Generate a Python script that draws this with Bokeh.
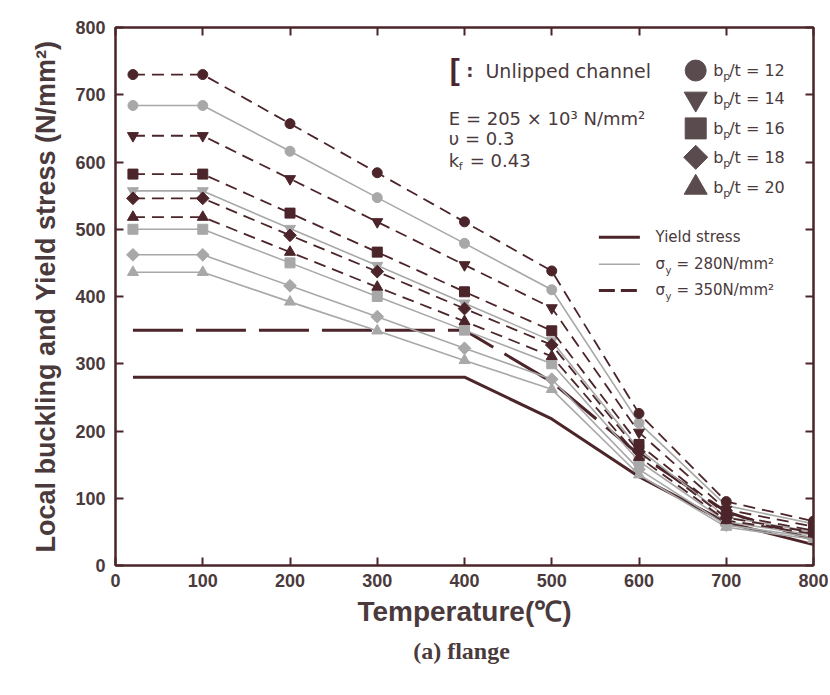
import math
from bokeh.plotting import figure
from bokeh.models import Label, LinearAxis, FixedTicker, Range1d, Title, ColumnDataSource
from bokeh.embed import file_html
from bokeh.resources import INLINE

# ---------------- data ----------------
temps = [20, 100, 200, 300, 400, 500, 600, 700, 800]

# sigma_y = 350 N/mm2 (dark, dashed)
s350_12 = [730, 730, 657, 584, 511, 438, 226, 95, 66]
s350_14 = [639, 639, 575, 511, 447, 383, 198, 83, 58]
s350_16 = [582, 582, 524, 466, 407, 349, 180, 76, 52]
s350_18 = [546, 546, 491, 437, 382, 328, 169, 71, 49]
s350_20 = [518, 518, 466, 414, 363, 311, 161, 67, 47]

# sigma_y = 280 N/mm2 (grey, solid)
s280_12 = [684, 684, 616, 547, 479, 410, 212, 89, 62]
s280_14 = [557, 557, 501, 446, 390, 334, 173, 72, 50]
s280_16 = [500, 500, 450, 400, 350, 300, 155, 65, 45]
s280_18 = [462, 462, 416, 370, 323, 277, 143, 60, 42]
s280_20 = [436, 436, 392, 349, 305, 262, 135, 57, 39]

# yield stress
yield280 = [280, 280, 280, 280, 280, 218, 132, 64, 31]
yield350 = [350, 350, 350, 350, 350, 273, 165, 80, 38]

ratios = ["12", "14", "16", "18", "20"]
markers = ["circle", "inverted_triangle", "square", "diamond", "triangle"]
x_ticks = [0, 100, 200, 300, 400, 500, 600, 700, 800]
y_ticks = [0, 100, 200, 300, 400, 500, 600, 700, 800]

DARK = "#4b2529"
GREY = "#a8a8a8"
TXT = "#4a3a3c"
AX = "#4b2529"
LEGM = "#5a4c4e"
FONT = "DejaVu Sans"

p = figure(width=828, height=687, x_range=Range1d(0, 800), y_range=Range1d(0, 800),
           output_backend="svg", toolbar_location=None,
           min_border_left=115, min_border_top=27, min_border_right=15, min_border_bottom=122,
           x_axis_label="Temperature(\u2103)",
           y_axis_label="Local buckling and Yield stress (N/mm\u00b2)")
p.grid.visible = False
p.background_fill_color = "white"
p.outline_line_color = AX
p.outline_line_width = 2

for ax in (p.xaxis[0], p.yaxis[0]):
    ax.axis_line_color = AX
    ax.axis_line_width = 2
    ax.major_tick_line_color = AX
    ax.major_tick_line_width = 2
    ax.major_tick_in = 8
    ax.major_tick_out = 0
    ax.minor_tick_line_color = None
    ax.major_label_text_font = "Liberation Sans"
    ax.major_label_text_font_style = "bold"
    ax.major_label_text_font_size = "18px"
    ax.major_label_text_color = TXT
    ax.axis_label_text_font = "Liberation Sans"
    ax.axis_label_text_font_style = "bold"
    ax.axis_label_text_color = TXT
p.xaxis[0].ticker = FixedTicker(ticks=x_ticks)
p.yaxis[0].ticker = FixedTicker(ticks=y_ticks)
p.xaxis[0].major_label_standoff = 8
p.yaxis[0].major_label_standoff = 10
p.xaxis[0].axis_label_text_font_size = "28px"
p.yaxis[0].axis_label_text_font_size = "27px"
p.xaxis[0].axis_label_standoff = 6
p.yaxis[0].axis_label_standoff = 11

for loc, tk in (("above", x_ticks), ("right", y_ticks)):
    a = LinearAxis(ticker=FixedTicker(ticks=tk),
                   major_label_overrides={t: "" for t in tk})
    a.axis_line_color = AX
    a.axis_line_width = 2
    a.major_tick_line_color = AX
    a.major_tick_line_width = 2
    a.major_tick_in = 8
    a.major_tick_out = 0
    a.minor_tick_line_color = None
    a.major_label_standoff = 0
    p.add_layout(a, loc)

# yield stress lines
p.line(temps, yield280, line_color=DARK, line_width=3)
p.line(temps, yield350, line_color=DARK, line_width=3, line_dash="50 13")

# buckling curves: grey (280) first, dark (350) on top
grey_series = [s280_12, s280_14, s280_16, s280_18, s280_20]
dark_series = [s350_12, s350_14, s350_16, s350_18, s350_20]
sizes = {"circle": 10, "inverted_triangle": 11, "square": 10, "diamond": 9, "triangle": 11}


def draw_markers(src, mk, size, color):
    if mk == "diamond":
        p.scatter("x", "y", source=src, marker="square", angle=math.pi / 4, size=size,
                  fill_color=color, line_color=color)
    else:
        p.scatter("x", "y", source=src, marker=mk, size=size, fill_color=color, line_color=color)


for ys, mk in zip(grey_series, markers):
    src = ColumnDataSource(dict(x=temps, y=ys))
    p.line("x", "y", source=src, line_color=GREY, line_width=1.6)
    draw_markers(src, mk, sizes[mk], GREY)
for ys, mk in zip(dark_series, markers):
    src = ColumnDataSource(dict(x=temps, y=ys))
    p.line("x", "y", source=src, line_color=DARK, line_width=1.8, line_dash="12 7")
    draw_markers(src, mk, sizes[mk], DARK)

# ---------------- annotations / legends ----------------
def lab(x, y, text, size=16, xo=0, yo=0, color=TXT, style="normal", font=FONT):
    p.add_layout(Label(x=x, y=y, x_offset=xo, y_offset=yo, text=text,
                       text_font=font, text_font_size=f"{size}px", text_font_style=style,
                       text_color=color, text_baseline="middle", text_align="left"))

# channel note
lab(383, 736, "[", size=30, color=DARK, yo=1, style="bold", font="Liberation Sans")
lab(402, 736, ":", size=18, style="bold")
lab(424, 736, "Unlipped channel", size=19)
lab(382, 665, "E = 205 \u00d7 10\u00b3 N/mm\u00b2", size=18)
lab(382, 635, "\u03c5 = 0.3", size=18)
lab(382, 602, "k", size=18)
lab(382, 602, "f", size=11, xo=10, yo=-6)
lab(382, 602, "= 0.43", size=18, xo=21)

# marker legend
leg_y = [736, 694, 650, 607, 562]
leg_size = {"circle": 21, "inverted_triangle": 23, "square": 21, "diamond": 17, "triangle": 23}
for yy, mk, r in zip(leg_y, markers, ratios):
    if mk == "diamond":
        p.scatter([665], [yy], marker="square", angle=math.pi / 4, size=leg_size[mk],
                  fill_color=LEGM, line_color=LEGM)
    else:
        p.scatter([665], [yy], marker=mk, size=leg_size[mk], fill_color=LEGM, line_color=LEGM)
    lab(685, yy, "b", size=16)
    lab(685, yy, "p", size=11, xo=10, yo=-6)
    lab(685, yy, "/t = " + r, size=16, xo=16)

# line legend
p.line([554, 601], [488, 488], line_color=DARK, line_width=3)
p.line([554, 601], [448, 448], line_color=GREY, line_width=1.6)
p.line([554, 601], [409, 409], line_color=DARK, line_width=3, line_dash="16 6")
lab(619, 488, "Yield stress", size=15)
for yy, v in ((448, "280"), (409, "350")):
    lab(619, yy, "\u03c3", size=15)
    lab(619, yy, "y", size=10, xo=10, yo=-6)
    lab(619, yy, "= " + v + "N/mm\u00b2", size=15, xo=21)

p.add_layout(Title(text="(a)  flange", align="center", text_font="Liberation Serif",
                   text_font_style="bold", text_font_size="24px", text_color=TXT,
                   standoff=12), "below")

open("out.html", "w").write(file_html(p, INLINE))
